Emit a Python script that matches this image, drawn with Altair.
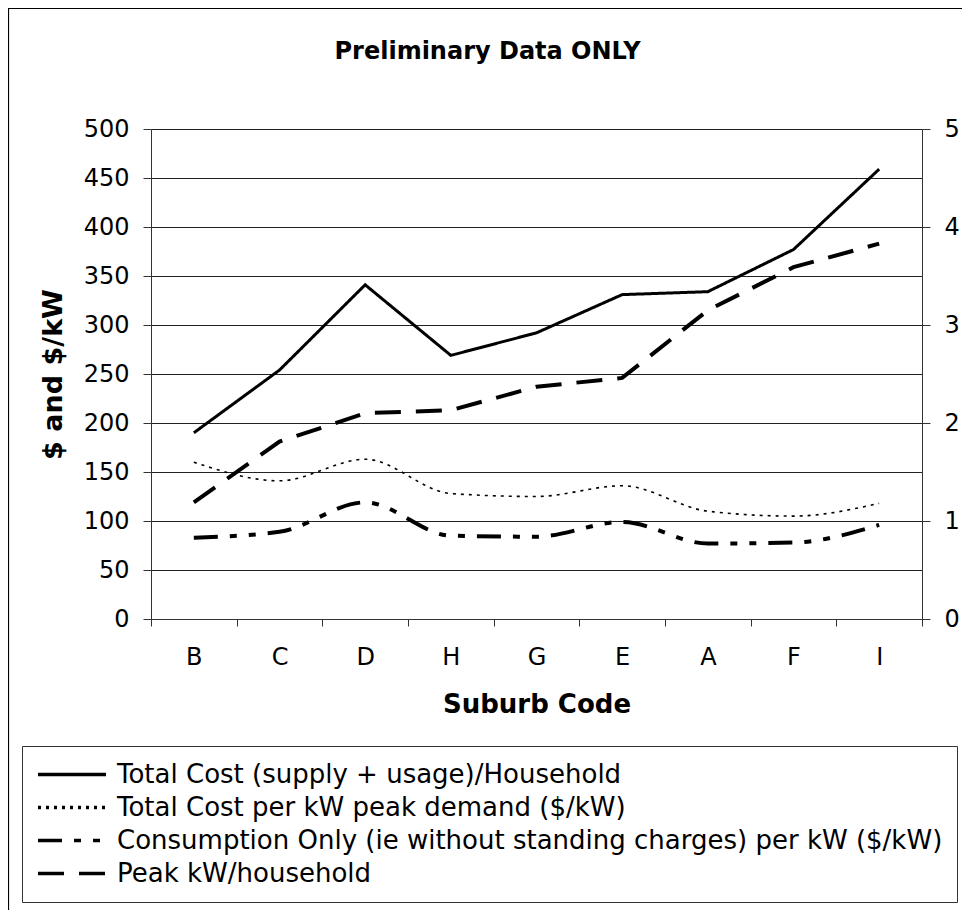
import altair as alt
import pandas as pd

suburbs = ["B", "C", "D", "H", "G", "E", "A", "F", "I"]
total_cost = [190, 254, 341, 269, 292, 331, 334, 377, 459]
cost_per_kw = [160, 141, 163, 128, 125, 136, 110, 105, 118]
consumption_per_kw = [83, 89, 119, 85, 84, 99, 77, 78, 96]
peak_kw = [1.19, 1.81, 2.10, 2.13, 2.37, 2.46, 3.15, 3.59, 3.83]

series_names = [
    "Total Cost (supply + usage)/Household",
    "Total Cost per kW peak demand ($/kW)",
    "Consumption Only (ie without standing charges) per kW ($/kW)",
    "Peak kW/household",
]
left_ticks = [0, 50, 100, 150, 200, 250, 300, 350, 400, 450, 500]
right_ticks = [0, 1, 2, 3, 4, 5]

def frame(name, values):
    return pd.DataFrame({"suburb": suburbs, "value": values, "series": name})

FONT = "DejaVu Sans"

x_enc = alt.X(
    "suburb:N",
    sort=suburbs,
    scale=alt.Scale(type="band", paddingInner=0, paddingOuter=0),
    axis=alt.Axis(
        title="Suburb Code", labelAngle=0, tickBand="extent", tickSize=7,
        labelPadding=19, titlePadding=22, domainColor="#333", tickColor="#333",
        grid=False, titleFontSize=26,
    ),
)

legend = alt.Legend(
    orient="none", legendX=-129, legendY=617, title=None, direction="vertical",
    symbolType="stroke", symbolSize=4624, symbolStrokeColor="black",
    symbolStrokeWidth=3.5,
    labelFontSize=26, labelFont=FONT, labelColor="black", labelLimit=2000,
    labelOffset=9, strokeColor="#333", padding=14, rowPadding=4, clipHeight=29,
    fillColor="white",
)

dash_enc = alt.StrokeDash(
    "series:N",
    scale=alt.Scale(domain=series_names,
                    range=[[1, 0], [3, 5], [24, 12, 7, 12, 7, 12], [26, 15]]),
    legend=legend,
)

y_left = alt.Y(
    "value:Q",
    scale=alt.Scale(domain=[0, 500], nice=False, zero=True),
    axis=alt.Axis(
        values=left_ticks, title="$ and $/kW", tickSize=8, labelPadding=14,
        titlePadding=16, gridColor="#222", domainColor="#333", tickColor="#333",
        titleFontSize=27,
    ),
)
y_right = alt.Y(
    "value:Q",
    scale=alt.Scale(domain=[0, 5], nice=False, zero=True),
    axis=alt.Axis(
        values=right_ticks, title=None, orient="right", tickSize=8,
        labelPadding=14, grid=False, domainColor="#333", tickColor="#333",
    ),
)

def line(df, y, interp, w):
    return alt.Chart(df).mark_line(color="black", interpolate=interp, strokeWidth=w).encode(
        x=x_enc, y=y, strokeDash=dash_enc
    )

l1 = line(frame(series_names[0], total_cost), y_left, "linear", 3)
l2 = line(frame(series_names[1], cost_per_kw), y_left, "monotone", 1.6)
l3 = line(frame(series_names[2], consumption_per_kw), y_left, "monotone", 4)
r1 = line(frame(series_names[3], peak_kw), y_right, "linear", 4)

border = alt.Chart(pd.DataFrame({"a": [0]})).mark_rect(
    filled=False, stroke="black", strokeWidth=1.2
).encode(
    x=alt.value(-142.5), x2=alt.value(900), y=alt.value(-120.5), y2=alt.value(900)
)

left_layer = alt.layer(l1, l2, l3)
chart = alt.layer(left_layer, r1, border).resolve_scale(y="independent").properties(
    width=771, height=490,
    title=alt.TitleParams("Preliminary Data ONLY", fontSize=24, font=FONT,
                          fontWeight="bold", anchor="middle", dx=-49, offset=-56,
                          color="black"),
    autosize=alt.AutoSizeParams(type="none"),
    padding={"left": 143, "top": 121, "right": 40, "bottom": 291},
).configure_view(stroke=None).configure_axis(
    labelFont=FONT, labelFontSize=24, labelColor="black",
    titleFont=FONT, titleFontSize=24, titleFontWeight="bold", titleColor="black",
)

chart.save("out.html", embed_options={"renderer": "svg", "actions": False})
